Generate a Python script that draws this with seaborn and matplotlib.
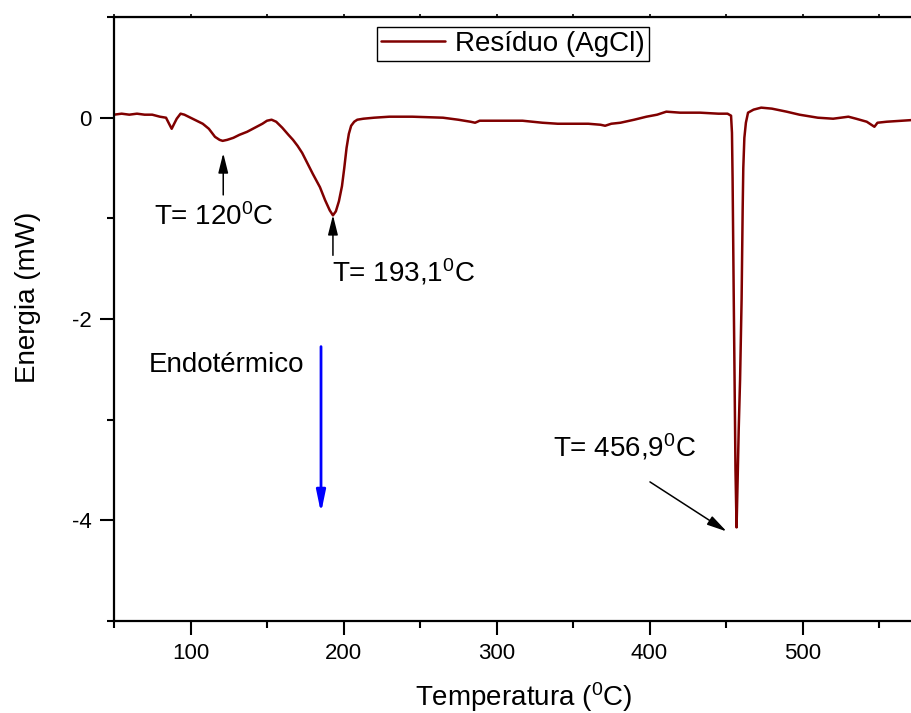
import numpy as np
import pandas as pd
import matplotlib
matplotlib.use("Agg")
import matplotlib.pyplot as plt
import seaborn as sns

# DSC trace of the AgCl residue
temperature = [50, 55, 60, 65, 70, 75, 80, 84, 86, 87.7, 89, 91, 93.5, 96, 100,
               104, 108, 112, 116, 119, 121, 124, 128, 132, 137, 142, 147, 150,
               153, 156, 160, 164, 167, 170, 173, 176, 180, 184.6, 188, 191,
               193.1, 195, 197, 199, 200.5, 202, 203.5, 205, 207, 209, 213, 220,
               230, 236, 245, 255, 265, 275, 283, 286, 289, 300, 317, 330, 340,
               350, 360, 368, 371, 375, 381, 390, 398, 405, 411, 420, 433, 445,
               451, 453.3, 453.9, 454.3, 455.0, 455.6, 456.2, 456.9, 457.6,
               458.3, 459.2, 460.2, 460.9, 461.3, 462.0, 463.0, 464.4, 468, 473,
               480, 489.6, 498, 510, 520, 525, 530, 535, 542, 547, 549, 555, 565,
               575]
energy = [0.03, 0.04, 0.03, 0.04, 0.03, 0.03, 0.01, 0.0, -0.06, -0.11, -0.07,
          -0.01, 0.04, 0.03, 0.0, -0.03, -0.06, -0.11, -0.19, -0.22, -0.23,
          -0.22, -0.20, -0.17, -0.14, -0.10, -0.06, -0.03, -0.02, -0.04, -0.10,
          -0.17, -0.22, -0.28, -0.35, -0.44, -0.56, -0.69, -0.82, -0.92, -0.97,
          -0.93, -0.83, -0.68, -0.50, -0.30, -0.16, -0.08, -0.04, -0.02, -0.01,
          0.0, 0.01, 0.01, 0.01, 0.005, 0.0, -0.02, -0.04, -0.05, -0.03, -0.03,
          -0.03, -0.05, -0.06, -0.06, -0.06, -0.07, -0.08, -0.06, -0.05, -0.02,
          0.01, 0.03, 0.06, 0.05, 0.05, 0.04, 0.04, 0.02, -0.15, -0.6, -1.7,
          -2.6, -3.5, -4.07, -3.6, -3.1, -2.6, -1.8, -0.9, -0.5, -0.2, -0.05,
          0.05, 0.08, 0.10, 0.09, 0.06, 0.03, 0.0, -0.01, 0.0, 0.01, -0.01,
          -0.04, -0.09, -0.05, -0.04, -0.03, -0.02]

series_label = "Resíduo (AgCl)"
x_label = "Temperatura ($^{0}$C)"
y_label = "Energia (mW)"
x_major = [100, 200, 300, 400, 500]
x_minor = [50, 150, 250, 350, 450, 550]
y_major = [-4, -2, 0]
y_minor = [-5, -3, -1, 1]

# peak annotations: text, text position, arrow tail and tip
peak_labels = ["T= 120$^{0}$C", "T= 193,1$^{0}$C", "T= 456,9$^{0}$C"]
peak_text_xy = [(76.3, -1.067), (192.5, -1.626), (336.7, -3.37)]
peak_arrows = [((121.4, -0.767), (121.4, -0.352)),
               ((193.1, -1.367), (193.1, -0.967)),
               ((400.3, -3.618), (450.4, -4.11))]

endo_text = "Endotérmico"

sns.set_style("ticks")
plt.rcParams["font.family"] = ["Liberation Sans", "DejaVu Sans"]
plt.rcParams["mathtext.default"] = "regular"
plt.rcParams["axes.unicode_minus"] = False
for key in ["text.color", "axes.labelcolor", "xtick.color", "ytick.color",
            "xtick.labelcolor", "ytick.labelcolor"]:
    plt.rcParams[key] = "black"

df = pd.DataFrame({"T": temperature, "E": energy})

fig = plt.figure(figsize=(9.12, 7.13), dpi=100)
ax = fig.add_axes([0.125, 0.129, 0.9227, 0.8471])

sns.lineplot(data=df, x="T", y="E", color="#800000", lw=1.8,
             label=series_label, ax=ax, sort=False, estimator=None)

ax.set_xlim(50, 600)
ax.set_ylim(-5, 1)
ax.set_xticks(x_major)
ax.set_xticks(x_minor, minor=True)
ax.set_yticks(y_major)
ax.set_yticks(y_minor, minor=True)
ax.tick_params(axis="both", which="major", direction="out", length=10,
               width=1.5, labelsize=16, color="black", labelcolor="black",
               pad=6)
ax.tick_params(axis="both", which="minor", direction="out", length=5,
               width=1.5, color="black")
for side in ["left", "bottom", "top", "right"]:
    ax.spines[side].set_visible(True)
    ax.spines[side].set_linewidth(1.6)
    ax.spines[side].set_color("black")

top = ax.secondary_xaxis("top")
top.set_xticks(np.arange(50, 601, 50))
top.tick_params(direction="out", length=2, width=1.2, labeltop=False,
                color="black")
top.set_xticklabels([])

ax.set_xlabel(x_label, fontsize=20, color="black")
ax.set_ylabel(y_label, fontsize=20, color="black")
ax.xaxis.label.set_va("center")
ax.yaxis.label.set_va("center")
ax.xaxis.set_label_coords(0.487, -0.126)
ax.yaxis.set_label_coords(-0.102, 0.536)

for text, (tx, ty), (tail, tip) in zip(peak_labels, peak_text_xy, peak_arrows):
    ax.text(tx, ty, text, fontsize=20, ha="left", va="baseline",
            color="black")
    ax.annotate("", xy=tip, xytext=tail,
                arrowprops=dict(arrowstyle="-|>,head_length=1.2,head_width=0.3",
                                mutation_scale=10, lw=1.1, color="black",
                                shrinkA=0, shrinkB=0))

ax.text(72.9, -2.53, endo_text, fontsize=20, ha="left", va="baseline",
        color="black")
ax.annotate("", xy=(185.3, -3.927), xytext=(185.3, -2.274),
            arrowprops=dict(arrowstyle="-|>,head_length=1.3,head_width=0.27",
                            mutation_scale=10, lw=2, color="#0000ff",
                            shrinkA=0, shrinkB=0))

leg = ax.legend(loc="upper left", bbox_to_anchor=(0.3125, 0.984),
                borderaxespad=0, fontsize=20, frameon=True, fancybox=False,
                handlelength=2.3, handletextpad=0.35, borderpad=0.15)
leg.get_frame().set_edgecolor("black")
leg.get_frame().set_linewidth(1.0)
leg.get_frame().set_alpha(1)
for t in leg.get_texts():
    t.set_color("black")

fig.savefig("out.png", dpi=100)
